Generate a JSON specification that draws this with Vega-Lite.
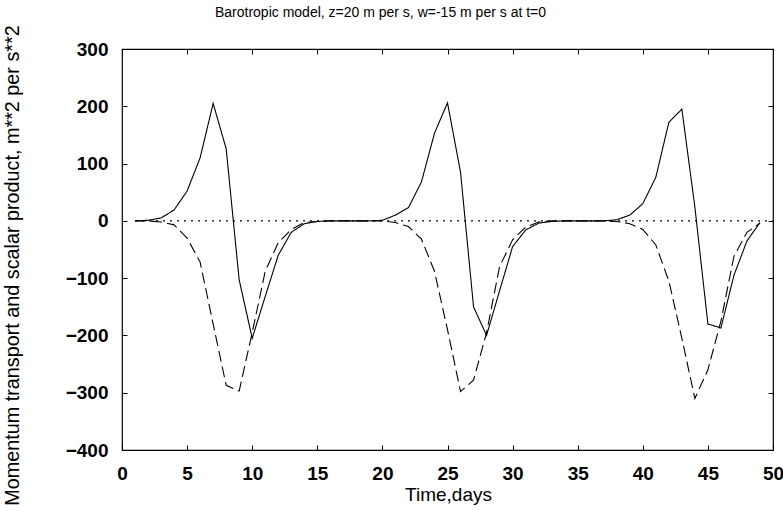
{
  "$schema": "https://vega.github.io/schema/vega-lite/v6.json",
  "autosize": {"type": "none"},
  "padding": {"left": 122, "top": 49, "right": 10, "bottom": 62},
  "width": 651,
  "height": 401,
  "background": "white",
  "config": {
    "font": "Liberation Sans",
    "view": {"stroke": "black", "strokeWidth": 1.2},
    "axis": {
      "grid": false,
      "domain": false,
      "ticks": true,
      "tickColor": "black",
      "tickSize": -5,
      "labelFlush": false,
      "labelColor": "black",
      "labelFont": "Liberation Sans",
      "labelFontSize": 19,
      "labelFontWeight": "bold",
      "titleColor": "black",
      "titleFont": "Liberation Sans",
      "titleFontSize": 19,
      "titleFontWeight": "normal"
    }
  },
  "title": {
    "text": "Barotropic model, z=20 m per s, w=-15 m per s at t=0",
    "font": "Liberation Sans",
    "fontSize": 14,
    "fontWeight": "normal",
    "color": "black",
    "frame": "group",
    "anchor": "middle",
    "dx": -67,
    "dy": 13,
    "offset": 18
  },
  "data": {
    "values": [
      {"t": 1, "v": 0, "s": "transport"}, {"t": 2, "v": 1, "s": "transport"}, {"t": 3, "v": 5, "s": "transport"},
      {"t": 4, "v": 19, "s": "transport"}, {"t": 5, "v": 52, "s": "transport"}, {"t": 6, "v": 110, "s": "transport"},
      {"t": 7, "v": 205, "s": "transport"}, {"t": 8, "v": 126, "s": "transport"}, {"t": 9, "v": -103, "s": "transport"},
      {"t": 10, "v": -205, "s": "transport"}, {"t": 11, "v": -132, "s": "transport"}, {"t": 12, "v": -60, "s": "transport"},
      {"t": 13, "v": -20, "s": "transport"}, {"t": 14, "v": -5, "s": "transport"}, {"t": 15, "v": -1, "s": "transport"},
      {"t": 16, "v": 0, "s": "transport"}, {"t": 17, "v": 0, "s": "transport"}, {"t": 18, "v": 0, "s": "transport"},
      {"t": 19, "v": 0, "s": "transport"}, {"t": 20, "v": 1, "s": "transport"}, {"t": 21, "v": 10, "s": "transport"},
      {"t": 22, "v": 23, "s": "transport"}, {"t": 23, "v": 68, "s": "transport"}, {"t": 24, "v": 153, "s": "transport"},
      {"t": 25, "v": 206, "s": "transport"}, {"t": 26, "v": 85, "s": "transport"}, {"t": 27, "v": -150, "s": "transport"},
      {"t": 28, "v": -200, "s": "transport"}, {"t": 29, "v": -122, "s": "transport"}, {"t": 30, "v": -45, "s": "transport"},
      {"t": 31, "v": -16, "s": "transport"}, {"t": 32, "v": -4, "s": "transport"}, {"t": 33, "v": -1, "s": "transport"},
      {"t": 34, "v": 0, "s": "transport"}, {"t": 35, "v": 0, "s": "transport"}, {"t": 36, "v": 0, "s": "transport"},
      {"t": 37, "v": 0, "s": "transport"}, {"t": 38, "v": 2, "s": "transport"}, {"t": 39, "v": 10, "s": "transport"},
      {"t": 40, "v": 30, "s": "transport"}, {"t": 41, "v": 76, "s": "transport"}, {"t": 42, "v": 172, "s": "transport"},
      {"t": 43, "v": 195, "s": "transport"}, {"t": 44, "v": 24, "s": "transport"}, {"t": 45, "v": -180, "s": "transport"},
      {"t": 46, "v": -187, "s": "transport"}, {"t": 47, "v": -95, "s": "transport"}, {"t": 48, "v": -35, "s": "transport"},
      {"t": 49, "v": -3, "s": "transport"},
      {"t": 1, "v": 0, "s": "scalar"}, {"t": 2, "v": 0, "s": "scalar"}, {"t": 3, "v": -2, "s": "scalar"},
      {"t": 4, "v": -7, "s": "scalar"}, {"t": 5, "v": -30, "s": "scalar"}, {"t": 6, "v": -72, "s": "scalar"},
      {"t": 7, "v": -180, "s": "scalar"}, {"t": 8, "v": -287, "s": "scalar"}, {"t": 9, "v": -297, "s": "scalar"},
      {"t": 10, "v": -195, "s": "scalar"}, {"t": 11, "v": -88, "s": "scalar"}, {"t": 12, "v": -38, "s": "scalar"},
      {"t": 13, "v": -15, "s": "scalar"}, {"t": 14, "v": -3, "s": "scalar"}, {"t": 15, "v": -1, "s": "scalar"},
      {"t": 16, "v": 0, "s": "scalar"}, {"t": 17, "v": 0, "s": "scalar"}, {"t": 18, "v": 0, "s": "scalar"},
      {"t": 19, "v": 0, "s": "scalar"}, {"t": 20, "v": 0, "s": "scalar"}, {"t": 21, "v": -3, "s": "scalar"},
      {"t": 22, "v": -10, "s": "scalar"}, {"t": 23, "v": -32, "s": "scalar"}, {"t": 24, "v": -88, "s": "scalar"},
      {"t": 25, "v": -190, "s": "scalar"}, {"t": 26, "v": -298, "s": "scalar"}, {"t": 27, "v": -278, "s": "scalar"},
      {"t": 28, "v": -195, "s": "scalar"}, {"t": 29, "v": -80, "s": "scalar"}, {"t": 30, "v": -33, "s": "scalar"},
      {"t": 31, "v": -11, "s": "scalar"}, {"t": 32, "v": -2, "s": "scalar"}, {"t": 33, "v": 0, "s": "scalar"},
      {"t": 34, "v": 0, "s": "scalar"}, {"t": 35, "v": 0, "s": "scalar"}, {"t": 36, "v": 0, "s": "scalar"},
      {"t": 37, "v": 0, "s": "scalar"}, {"t": 38, "v": -1, "s": "scalar"}, {"t": 39, "v": -5, "s": "scalar"},
      {"t": 40, "v": -15, "s": "scalar"}, {"t": 41, "v": -42, "s": "scalar"}, {"t": 42, "v": -105, "s": "scalar"},
      {"t": 43, "v": -205, "s": "scalar"}, {"t": 44, "v": -310, "s": "scalar"}, {"t": 45, "v": -260, "s": "scalar"},
      {"t": 46, "v": -175, "s": "scalar"}, {"t": 47, "v": -62, "s": "scalar"}, {"t": 48, "v": -20, "s": "scalar"},
      {"t": 49, "v": -4, "s": "scalar"},
      {"t": 1, "v": 0, "s": "zero"}, {"t": 50, "v": 0, "s": "zero"}
    ]
  },
  "resolve": {"axis": {"x": "independent", "y": "independent"}},
  "layer": [
    {
      "mark": {"type": "line", "color": "black", "strokeWidth": 1.1},
      "encoding": {
        "x": {
          "field": "t", "type": "quantitative",
          "scale": {"domain": [0, 50], "nice": false},
          "axis": {"values": [0, 5, 10, 15, 20, 25, 30, 35, 40, 45, 50], "labelPadding": 19,
                   "title": "Time,days", "titleX": 326, "titleY": 44, "titleBaseline": "middle"}
        },
        "y": {
          "field": "v", "type": "quantitative",
          "scale": {"domain": [-400, 300], "nice": false, "zero": false},
          "axis": {"values": [-400, -300, -200, -100, 0, 100, 200, 300], "labelPadding": 19,
                   "title": "Momentum transport and scalar product, m**2 per s**2",
                   "titleFontSize": 19.8,
                   "titleX": -110, "titleY": 216, "titleBaseline": "middle", "titleAngle": -90}
        },
        "detail": {"field": "s"},
        "strokeDash": {
          "field": "s", "type": "nominal",
          "scale": {"domain": ["transport", "scalar", "zero"], "range": [[1, 0], [11, 5], [2, 5]]},
          "legend": null
        }
      }
    },
    {
      "mark": {"type": "line", "opacity": 0},
      "encoding": {
        "x": {"field": "t", "type": "quantitative",
              "axis": {"orient": "top", "values": [0, 5, 10, 15, 20, 25, 30, 35, 40, 45, 50], "labels": false, "title": null}},
        "y": {"field": "v", "type": "quantitative",
              "axis": {"orient": "right", "values": [-400, -300, -200, -100, 0, 100, 200, 300], "labels": false, "title": null}},
        "detail": {"field": "s"}
      }
    }
  ]
}
